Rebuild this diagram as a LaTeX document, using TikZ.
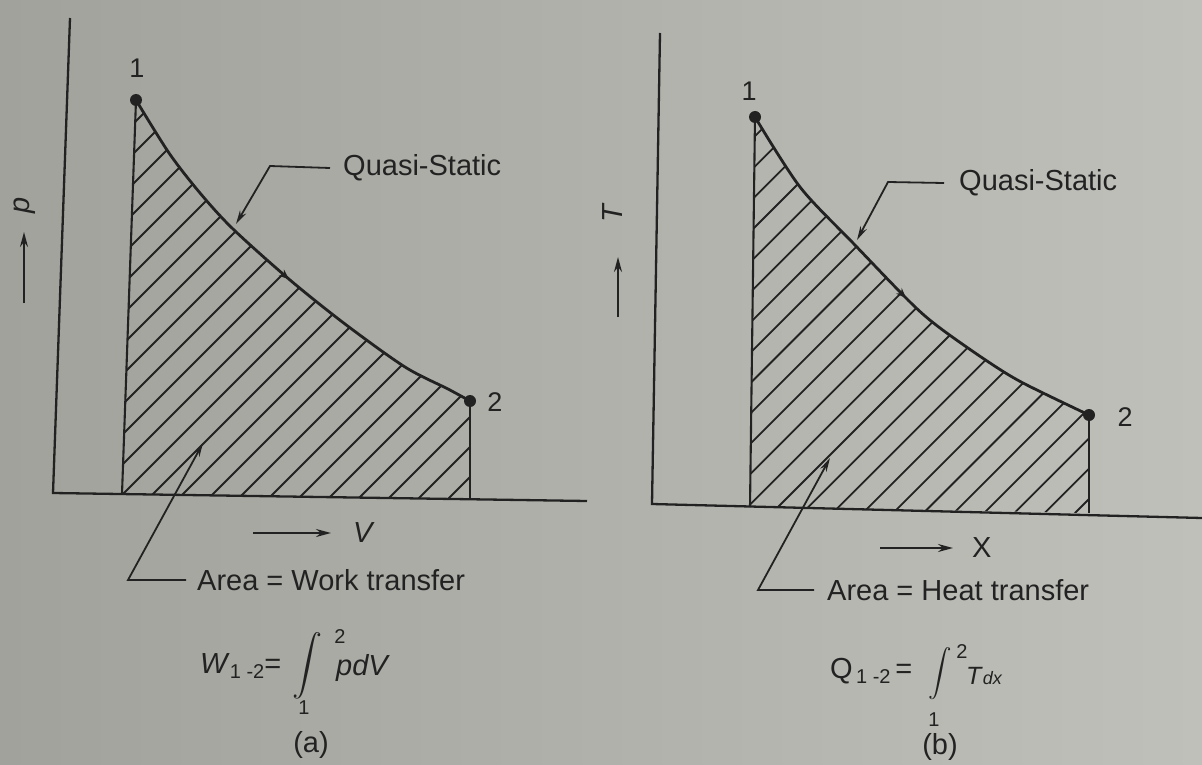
\documentclass[tikz,border=0pt]{standalone}
\usepackage{fontspec}
\setmainfont{Liberation Sans}
\usetikzlibrary{arrows.meta,decorations.markings}

\definecolor{paperdark}{RGB}{162,162,156}
\definecolor{paperlight}{RGB}{192,192,187}
\definecolor{ink}{RGB}{34,34,34}

\tikzset{
  axis/.style={line width=2.3pt},
  side/.style={line width=2.1pt},
  hatch/.style={line width=1.8pt},
  process/.style={line width=2.8pt, postaction={decorate},
    decoration={markings, mark=at position 0.52 with {\arrow{Stealth[length=10pt,width=8pt]}}}},
  leader/.style={line width=1.8pt, -{Stealth[length=14pt,width=7pt]}},
  dirarrow/.style={line width=2pt, -{Stealth[length=15pt,width=8pt]}},
  txt/.style={inner sep=0pt, font=\fontsize{29}{34}\selectfont},
  num/.style={inner sep=0pt, font=\fontsize{27}{32}\selectfont},
  lim/.style={inner sep=0pt, font=\fontsize{20}{24}\selectfont}
}

\begin{document}
\begin{tikzpicture}[x=1pt, y=-1pt, color=ink]

\shade[left color=paperdark, right color=paperlight] (0,0) rectangle (1202,765);
\useasboundingbox (0,0) rectangle (1202,765);

% Diagrama (a): p-V
\draw[axis] (70,18) -- (53,493) -- (587,501);

\coordinate (p1a) at (136,100);
\coordinate (p2a) at (470,401);
\coordinate (b1a) at (122,494);
\coordinate (b2a) at (470,499);

\begin{scope}
	\clip (b1a) -- plot[smooth] coordinates {(p1a) (169,153) (200,193) (233,229) (290,280) (345,324) (405,367) (448,389) (p2a)} -- (b2a) -- cycle;
	\foreach \k in {-14,...,11}
		\draw[hatch] ({647+30*\k},0) -- ++(-700,700);
\end{scope}

\draw[side] (b1a) -- (p1a);
\draw[side] (p2a) -- (b2a);
\draw[process] plot[smooth] coordinates {(p1a) (169,153) (200,193) (233,229) (290,280) (345,324) (405,367) (448,389) (p2a)};
\fill (p1a) circle[radius=6pt];
\fill (p2a) circle[radius=6pt];

\node[num] (n1a) at (137,68) {1};
\node[num] (n2a) at (495,402) {2};

\node[txt, anchor=west] (qsa) at (343,168) {Quasi-Static};
\coordinate (qsa-bend) at (270,166);
\coordinate (qsa-tip) at (236,224);
\draw[leader] ([xshift=-13pt]qsa.west) -- (qsa-bend) -- (qsa-tip);

\node[txt, anchor=west] (area-a) at (197,580) {Area = Work transfer};
\coordinate (area-a-bend) at (128,580);
\coordinate (area-a-tip) at (203,443);
\draw[leader] ([xshift=-11pt]area-a.west) -- (area-a-bend) -- (area-a-tip);

\node[txt, anchor=west] (va) at (353,533) {\textit{V}};
\draw[dirarrow] ([xshift=-100pt]va.west) -- ([xshift=-22pt]va.west);

\node[txt, rotate=90] (pa) at (25,205) {\textit{p}};
\coordinate (pa-tail) at (24,303);
\coordinate (pa-head) at (24,232);
\draw[dirarrow] (pa-tail) -- (pa-head);

% W_{1-2}
\node[txt, anchor=base west] (wa) at (200,673) {\textit{W}\raisebox{-5pt}{\fontsize{20}{20}\selectfont 1 -2}=};
\node[inner sep=0pt, scale=3] (inta) at (307,666) {$\displaystyle\int$};
\node[lim] (up-a) at (340,637) {2};
\node[lim] (lo-a) at (304,708) {1};
\node[txt, anchor=base west] (pdva) at (336,675) {\textit{pdV}};
\node[txt] (cap-a) at (311,745) {(a)};

% Diagrama (b): T-X
\draw[axis] (660,33) -- (652,504) -- (1202,518);

\coordinate (p1b) at (755,117);
\coordinate (p2b) at (1089,415);
\coordinate (b1b) at (750,507);
\coordinate (b2b) at (1089,513);

\begin{scope}
	\clip (b1b) -- plot[smooth] coordinates {(p1b) (800,187) (853,243) (911,303) (940,328) (987,361) (1023,383) (p2b)} -- (b2b) -- cycle;
	\foreach \k in {-14,...,11}
		\draw[hatch] ({1285+30.3*\k},0) -- ++(-800,800);
\end{scope}

\draw[side] (b1b) -- (p1b);
\draw[side] (p2b) -- (b2b);
\draw[process] plot[smooth] coordinates {(p1b) (800,187) (853,243) (911,303) (940,328) (987,361) (1023,383) (p2b)};
\fill (p1b) circle[radius=6pt];
\fill (p2b) circle[radius=6pt];

\node[num] (n1b) at (749,91) {1};
\node[num] (n2b) at (1125,417) {2};

\node[txt, anchor=west] (qsb) at (959,183) {Quasi-Static};
\coordinate (qsb-bend) at (888,182);
\coordinate (qsb-tip) at (857,240);
\draw[leader] ([xshift=-15pt]qsb.west) -- (qsb-bend) -- (qsb-tip);

\node[txt, anchor=west] (area-b) at (827,590) {Area = Heat transfer};
\coordinate (area-b-bend) at (758,590);
\coordinate (area-b-tip) at (830,458);
\draw[leader] ([xshift=-13pt]area-b.west) -- (area-b-bend) -- (area-b-tip);

\node[txt, anchor=west] (xb) at (972,548) {X};
\draw[dirarrow] ([xshift=-92pt]xb.west) -- ([xshift=-19pt]xb.west);

\node[txt, rotate=90] (tb) at (613,213) {\textit{T}};
\coordinate (tb-tail) at (618,317);
\coordinate (tb-head) at (618,257);
\draw[dirarrow] (tb-tail) -- (tb-head);

% Q_{1-2}
\node[txt, anchor=base west] (qb) at (830,678) {Q\raisebox{-5pt}{\fontsize{20}{20}\selectfont\,1 -2}\,=};
\node[inner sep=0pt, scale=2.35] (intb) at (940,674) {$\displaystyle\int$};
\node[lim] (up-b) at (962,652) {2};
\node[lim] (lo-b) at (934,720) {1};
\node[inner sep=0pt, anchor=base west] (tdxb) at (966,684) {\fontsize{25}{30}\selectfont\textit{T}\fontsize{18}{20}\selectfont\textit{dx}};
\node[txt] (cap-b) at (940,747) {(b)};

\end{tikzpicture}
\end{document}
